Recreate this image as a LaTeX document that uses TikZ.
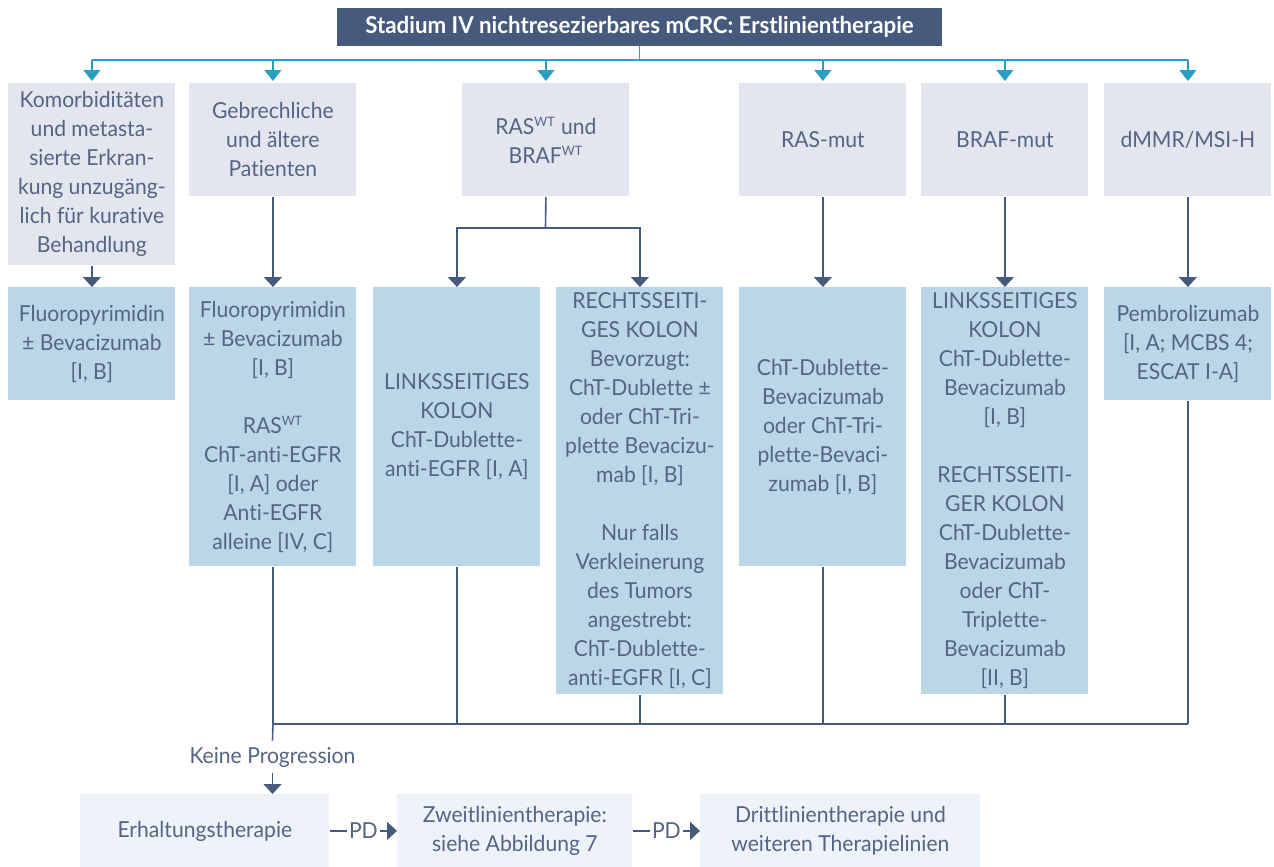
\documentclass[tikz,border=0pt]{standalone}
\usepackage{fontspec}
\setmainfont[FakeStretch=0.96, Ligatures={NoCommon}]{Lato}
\usetikzlibrary{arrows.meta, positioning, calc}
\usepackage{xcolor}
\definecolor{dunkelblau}{RGB}{70, 90, 126}
\definecolor{tuerkis}{RGB}{42, 159, 196}
\definecolor{graublau}{RGB}{227, 230, 238}
\definecolor{hellblau}{RGB}{187, 214, 231}
\definecolor{blassblau}{RGB}{238, 242, 249}
\definecolor{schrift}{RGB}{84, 100, 132}
\newcommand{\wildtyp}{\textsuperscript{\fontsize{6.5}{6.5}\selectfont WT}}
\tikzset{
  kasten/.style={
    anchor=north west, inner sep=2pt, align=center, text=schrift,
    font=\fontsize{11}{14.5}\selectfont, minimum width=83.5pt
  },
  kastenGrau/.style={kasten, fill=graublau},
  kastenBlau/.style={kasten, fill=hellblau},
  kastenHell/.style={kasten, fill=blassblau, minimum height=36.5pt},
  kopf/.style={fill=dunkelblau, text=white, font=\fontsize{11.6}{13}\selectfont\bfseries,
    minimum width=302.5pt, minimum height=19pt, inner sep=0pt},
  beschrift/.style={text=schrift, font=\fontsize{11}{13}\selectfont},
  linie/.style={dunkelblau, line width=0.8pt},
  linieT/.style={tuerkis, line width=0.7pt},
  pfeil/.style={linie, -{Triangle[width=9pt, length=5pt]}},
  pfeilT/.style={linieT, -{Triangle[width=8.5pt, length=5.5pt]}, shorten >=1pt},
}

\begin{document}
\begin{tikzpicture}[x=0.5pt, y=-0.5pt]

\useasboundingbox (0,0) rectangle (1274,867);

\node[kopf] (titel) at (639.5,27) {Stadium IV nichtresezierbares mCRC: Erstlinientherapie};

% erste Reihe
\node[kastenGrau, minimum height=91pt] (komorb) at (8,83)
{Komorbiditäten\\und metasta-\\sierte Erkran-\\kung unzugäng-\\lich für kurative\\Behandlung};
\node[kastenGrau, minimum height=56.5pt] (gebrech) at (189,83)
{Gebrechliche\\und ältere\\Patienten};
\node[kastenGrau, minimum height=56.5pt] (raswt) at (462,83)
{RAS\wildtyp{} und\\BRAF\wildtyp};
\node[kastenGrau, minimum height=56.5pt] (rasmut) at (739,83) {RAS-mut};
\node[kastenGrau, minimum height=56.5pt] (brafmut) at (921,83) {BRAF-mut};
\node[kastenGrau, minimum height=56.5pt] (dmmr) at (1104,83) {dMMR/MSI-H};

% zweite Reihe
\node[kastenBlau, minimum height=56.5pt] (fluoroA) at (8,287)
{Fluoropyrimidin\\± Bevacizumab\\{}[I, B]};
\node[kastenBlau, minimum height=139.5pt] (fluoroB) at (189,287)
{Fluoropyrimidin\\± Bevacizumab\\{}[I, B]\\[14.5pt]RAS\wildtyp\\ChT-anti-EGFR\\{}[I, A] oder\\Anti-EGFR\\alleine [IV, C]};
\node[kastenBlau, minimum height=139.5pt] (links) at (373,287)
{LINKSSEITIGES\\KOLON\\ChT-Dublette-\\anti-EGFR [I, A]};
\node[kastenBlau, minimum height=203.5pt] (rechts) at (556,287)
{RECHTSSEITI-\\GES KOLON\\Bevorzugt:\\ChT-Dublette ±\\oder ChT-Tri-\\plette Bevacizu-\\mab [I, B]\\[14.5pt]Nur falls\\Verkleinerung\\des Tumors\\angestrebt:\\ChT-Dublette-\\anti-EGFR [I, C]};
\node[kastenBlau, minimum height=139.5pt] (rasmutT) at (739,287)
{ChT-Dublette-\\Bevacizumab\\oder ChT-Tri-\\plette-Bevaci-\\zumab [I, B]};
\node[kastenBlau, minimum height=203.5pt] (brafT) at (921,287)
{LINKSSEITIGES\\KOLON\\ChT-Dublette-\\Bevacizumab\\{}[I, B]\\[14.5pt]RECHTSSEITI-\\GER KOLON\\ChT-Dublette-\\Bevacizumab\\oder ChT-\\Triplette-\\Bevacizumab\\{}[II, B]};
\node[kastenBlau, minimum height=56.5pt] (pembro) at (1104,287)
{Pembrolizumab\\{}[I, A; MCBS 4;\\ESCAT I-A]};

% untere Reihe
\node[kastenHell, minimum width=124.5pt] (erhalt) at (80,794) {Erhaltungstherapie};
\node[kastenHell, minimum width=117.5pt] (zweit) at (397,794) {Zweitlinientherapie:\\siehe Abbildung 7};
\node[kastenHell, minimum width=140pt] (dritt) at (700,794) {Drittlinientherapie und\\weiteren Therapielinien};

\node[beschrift, inner sep=3pt] (keine) at (272.5,757) {Keine Progression};

\coordinate (verteiler) at (639.5,60);
\coordinate (gabel) at (545.5,228);
\coordinate (sammel) at (639.5,724);

% Verteilung von oben
\draw[linieT] (titel.south) -- (verteiler);
\draw[linieT] (komorb.north |- verteiler) -- (dmmr.north |- verteiler);
\foreach \ziel in {komorb, gebrech, raswt, rasmut, brafmut, dmmr}
  \draw[pfeilT] (\ziel.north |- verteiler) -- (\ziel.north);

\draw[pfeil] (komorb) -- (fluoroA);
\draw[pfeil] (gebrech) -- (fluoroB);
\draw[pfeil] (rasmut) -- (rasmutT);
\draw[pfeil] (brafmut) -- (brafT);
\draw[pfeil] (dmmr) -- (pembro);
\draw[linie] (raswt.south) -- (gabel);
\draw[pfeil] (gabel) -| (links.north);
\draw[pfeil] (gabel) -| (rechts.north);

% Zusammenfuehrung
\foreach \quelle in {fluoroB, links, rechts, rasmutT, brafT, pembro}
  \draw[linie] (\quelle.south) -- (\quelle.south |- sammel);
\draw[linie] (fluoroB.south |- sammel) -- (pembro.south |- sammel);
\draw[linie] (fluoroB.south |- sammel) -- (keine.north);
\draw[pfeil] (keine.south) -- (keine.south |- erhalt.north);

\draw[pfeil] (erhalt) -- node[beschrift, fill=white, inner sep=1pt] (pdA) {PD} (zweit);
\draw[pfeil] (zweit) -- node[beschrift, fill=white, inner sep=1pt] (pdB) {PD} (dritt);

\end{tikzpicture}
\end{document}
